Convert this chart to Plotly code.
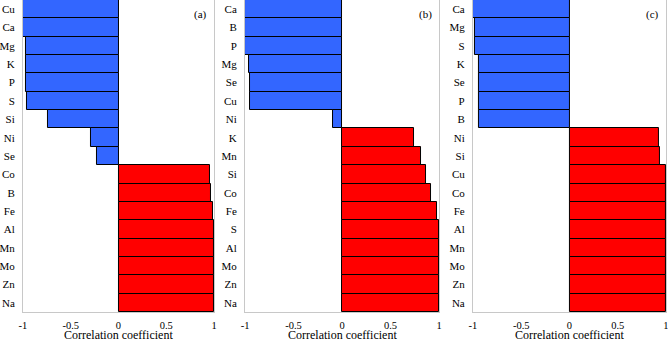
import plotly.graph_objects as go

cats_a = ["Cu", "Ca", "Mg", "K", "P", "S", "Si", "Ni", "Se", "Co", "B", "Fe", "Al", "Mn", "Mo", "Zn", "Na"]
vals_a = [-0.995, -0.995, -0.966, -0.966, -0.97, -0.96, -0.74, -0.29, -0.23,
          0.957, 0.968, 0.988, 0.999, 0.999, 0.999, 0.999, 0.999]

cats_b = ["Ca", "B", "P", "Mg", "Se", "Cu", "Ni", "K", "Mn", "Si", "Co", "Fe", "S", "Al", "Mo", "Zn", "Na"]
vals_b = [-0.997, -0.997, -0.997, -0.963, -0.953, -0.953, -0.093,
          0.745, 0.81, 0.866, 0.917, 0.979, 0.997, 0.997, 0.997, 0.997, 0.997]

cats_c = ["Ca", "Mg", "S", "K", "Se", "P", "B", "Ni", "Si", "Cu", "Co", "Fe", "Al", "Mn", "Mo", "Zn", "Na"]
vals_c = [-0.998, -0.98, -0.983, -0.94, -0.94, -0.935, -0.935,
          0.925, 0.94, 0.998, 0.998, 0.998, 0.998, 0.998, 0.998, 0.998, 0.998]

x_ticks = [-1, -0.5, 0, 0.5, 1]
x_tick_labels = ["-1", "-0.5", "0", "0.5", "1"]
panel_labels = ["(a)", "(b)", "(c)"]
x_title = "Correlation coefficient"

BLUE = "#3366ff"
RED = "#ff0000"
FONT = "Times New Roman, Liberation Serif, DejaVu Serif, serif"

panels = [(cats_a, vals_a), (cats_b, vals_b), (cats_c, vals_c)]
x_domains = [[0.0344, 0.3204], [0.3668, 0.6572], [0.708, 0.997]]
y_domain = [0.093, 1.0]

fig = go.Figure()
for i, (cats, vals) in enumerate(panels):
    suffix = "" if i == 0 else str(i + 1)
    fig.add_trace(go.Bar(
        x=vals, y=cats, orientation="h",
        marker=dict(color=[BLUE if v < 0 else RED for v in vals],
                    line=dict(color="black", width=1)),
        xaxis="x" + suffix, yaxis="y" + suffix, showlegend=False,
    ))
    fig.update_layout(**{
        "xaxis" + suffix: dict(
            domain=x_domains[i], range=[-1, 1], anchor="y" + suffix, automargin=False,
            tickvals=x_ticks, ticktext=x_tick_labels, showgrid=False, zeroline=False,
            showline=True, mirror=True, linecolor="#c8c8c8", linewidth=1,
            ticks="outside", ticklen=3, tickcolor="rgba(0,0,0,0)",
            ticklabeloverflow="allow",
            tickfont=dict(family=FONT, size=10.5, color="black"),
        ),
        "yaxis" + suffix: dict(
            domain=y_domain, anchor="x" + suffix, type="category", automargin=False,
            categoryorder="array", categoryarray=cats, autorange="reversed",
            showgrid=False, zeroline=False,
            showline=True, mirror=True, linecolor="#c8c8c8", linewidth=1,
            ticks="outside", ticklen=5, tickcolor="rgba(0,0,0,0)",
            ticklabeloverflow="allow",
            tickfont=dict(family=FONT, size=11, color="black"),
        ),
    })
    fig.add_annotation(
        text=panel_labels[i], xref="x" + suffix + " domain", yref="y" + suffix + " domain",
        x=0.93, y=0.955, showarrow=False, xanchor="center", yanchor="middle",
        font=dict(family=FONT, size=11, color="black"),
    )
    fig.add_annotation(
        text=x_title, xref="x" + suffix + " domain", yref="paper",
        x=0.5, y=0.0, showarrow=False, xanchor="center", yanchor="bottom",
        font=dict(family=FONT, size=12, color="black"),
    )

fig.update_layout(
    width=668, height=344, bargap=0,
    margin=dict(l=0, r=0, t=0, b=0),
    paper_bgcolor="white", plot_bgcolor="white",
    font=dict(family=FONT),
)
fig.write_html(
    "out.html",
    config={"displayModeBar": False},
    post_script="document.body.style.margin='0';document.body.style.overflow='hidden';",
)
